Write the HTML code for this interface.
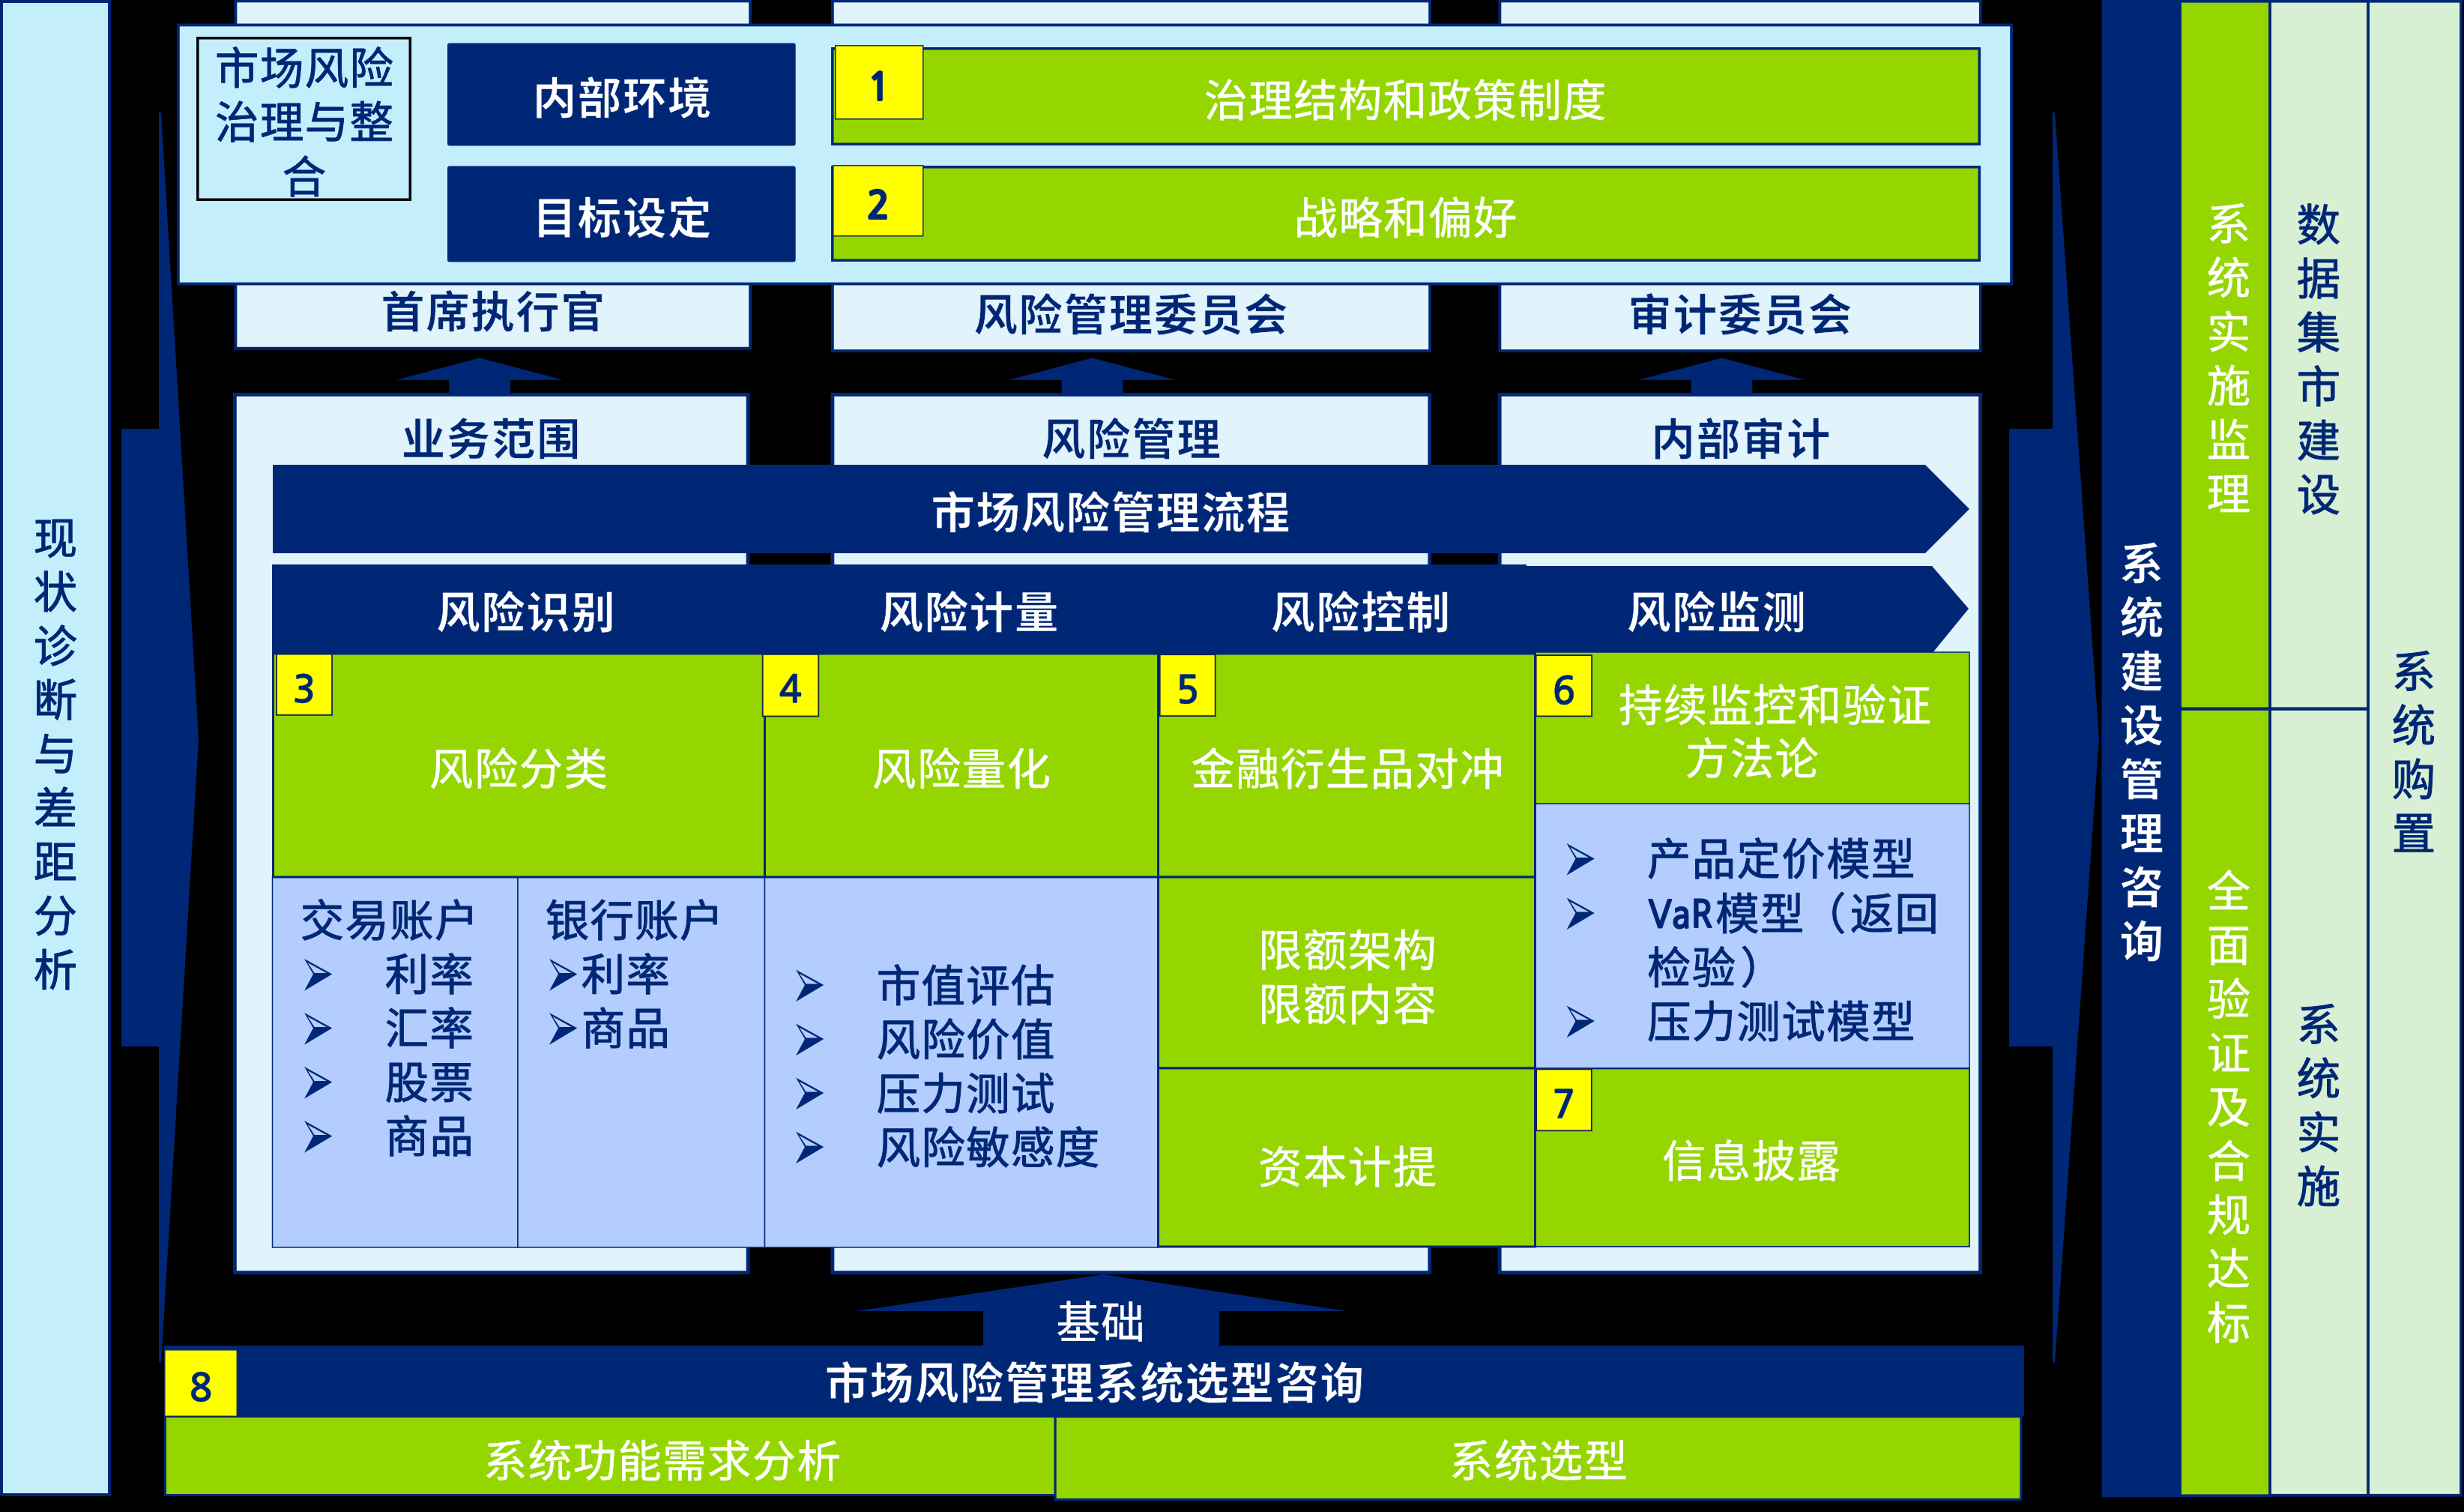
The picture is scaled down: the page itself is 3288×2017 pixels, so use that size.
<!DOCTYPE html>
<html><head><meta charset="utf-8"><title>市场风险管理</title>
<style>
html,body{margin:0;padding:0;background:#000;}
body{width:3288px;height:2017px;overflow:hidden;}
svg{display:block;}
text{font-family:"Liberation Sans","Noto Sans CJK SC",sans-serif;stroke-linejoin:round;}
text{font-size:58.4px;letter-spacing:1.40px;}
text.b{font-weight:700;stroke-width:0.7px;letter-spacing:1.70px;}
text.wr{font-weight:400;stroke-width:0.45px;}
text.nr{font-weight:400;stroke-width:1.0px;}
text.n{font-family:"NanumGothic","Liberation Sans",sans-serif;stroke:#002776;stroke-linejoin:miter;letter-spacing:0;font-size:51px;font-weight:700;}
tspan.lat{font-family:"NanumGothic","Liberation Sans",sans-serif;font-weight:700;stroke-width:0.9px;font-size:50px;letter-spacing:0;}
</style></head><body>
<svg width="3288" height="2017" viewBox="0 0 3288 2017">
<rect width="3288" height="2017" fill="#000"/>
<rect x="2.0" y="2.0" width="144.0" height="1992.0" fill="#c5eefd" stroke="#002776" stroke-width="4" />
<polygon points="163.5,573.5 213.5,573.5 213.5,150 263.5,985 213.5,1818 213.5,1394.5 163.5,1394.5" fill="#002776" stroke="#002776" stroke-width="3" stroke-linejoin="bevel"/>
<polygon points="2682.5,573.5 2740.5,573.5 2740.5,150 2799.5,985 2740.5,1818 2740.5,1394.5 2682.5,1394.5" fill="#002776" stroke="#002776" stroke-width="3" stroke-linejoin="bevel"/>
<rect x="314.4" y="1.4" width="686.7" height="463.3" fill="#e1f3fb" stroke="#002776" stroke-width="3.8" />
<rect x="1110.9" y="1.4" width="797.2" height="466.7" fill="#e1f3fb" stroke="#002776" stroke-width="3.8" />
<rect x="2001.4" y="1.4" width="641.4" height="466.7" fill="#e1f3fb" stroke="#002776" stroke-width="3.8" />
<polygon points="640,477.5 751,506.7 680.8,506.7 680.8,527 599.2,527 599.2,506.7 529,506.7" fill="#002776"/>
<polygon points="1457.5,477.5 1568.5,506.7 1498.3,506.7 1498.3,527 1416.7,527 1416.7,506.7 1346.5,506.7" fill="#002776"/>
<polygon points="2297.5,477.5 2408.5,506.7 2338.3,506.7 2338.3,527 2256.7,527 2256.7,506.7 2186.5,506.7" fill="#002776"/>
<rect x="313.4" y="526.4" width="684.7" height="1171.2" fill="#e1f3fb" stroke="#002776" stroke-width="4.8" />
<rect x="1110.9" y="526.4" width="796.9" height="1171.2" fill="#e1f3fb" stroke="#002776" stroke-width="4.8" />
<rect x="2001.2" y="526.4" width="641.4" height="1171.2" fill="#e1f3fb" stroke="#002776" stroke-width="4.8" />
<rect x="237.9" y="33.4" width="2446.2" height="345.2" fill="#c5eefd" stroke="#002776" stroke-width="3.8" />
<rect x="263.8" y="50.8" width="283.5" height="215.5" fill="#c5eefd" stroke="#000" stroke-width="3.5" />
<text class="nr" x="406.7" y="111.9" fill="#002776" stroke="#002776" text-anchor="middle">市场风险</text>
<text class="nr" x="406.7" y="184.4" fill="#002776" stroke="#002776" text-anchor="middle">治理与整</text>
<text class="nr" x="406.7" y="256.9" fill="#002776" stroke="#002776" text-anchor="middle">合</text>
<rect x="597" y="57.5" width="464.70000000000005" height="137.1" fill="#002776" rx="3"/>
<rect x="597" y="221.4" width="464.70000000000005" height="128.1" fill="#002776" rx="3"/>
<text class="b" x="830.9" y="151.9" fill="#fff" stroke="#002776" text-anchor="middle">内部环境</text>
<text class="b" x="830.9" y="311.9" fill="#fff" stroke="#002776" text-anchor="middle">目标设定</text>
<rect x="1110.8" y="64.8" width="1530.5" height="127.5" fill="#95d600" stroke="#002776" stroke-width="3.5" />
<rect x="1110.8" y="222.8" width="1530.5" height="124.5" fill="#95d600" stroke="#002776" stroke-width="3.5" />
<text class="wr" x="1875.7" y="155.4" fill="#fff" stroke="#fff" text-anchor="middle">治理结构和政策制度</text>
<text class="wr" x="1876.2" y="311.9" fill="#fff" stroke="#fff" text-anchor="middle">战略和偏好</text>
<rect x="1114.8" y="60.8" width="117.0" height="98.0" fill="#ffff00" stroke="#1a2a55" stroke-width="1.5" />
<rect x="1111.8" y="220.8" width="120.0" height="94.0" fill="#ffff00" stroke="#1a2a55" stroke-width="1.5" />
<text x="1173.0" y="133.8" fill="#002776" text-anchor="middle" class="n" stroke-width="2.0">1</text>
<text x="1172.0" y="291.6" fill="#002776" text-anchor="middle" class="n" stroke-width="2.0">2</text>
<text class="b" x="658.4" y="436.9" fill="#002776" stroke="#e1f3fb" text-anchor="middle">首席执行官</text>
<text class="b" x="1509.8" y="440.9" fill="#002776" stroke="#e1f3fb" text-anchor="middle">风险管理委员会</text>
<text class="b" x="2322.8" y="440.9" fill="#002776" stroke="#e1f3fb" text-anchor="middle">审计委员会</text>
<text class="b" x="655.9" y="606.9" fill="#002776" stroke="#e1f3fb" text-anchor="middle">业务范围</text>
<text class="b" x="1510.3" y="606.9" fill="#002776" stroke="#e1f3fb" text-anchor="middle">风险管理</text>
<text class="b" x="2323.8" y="606.9" fill="#002776" stroke="#e1f3fb" text-anchor="middle">内部审计</text>
<polygon points="364,620 2569,620 2628,679 2569,738 364,738" fill="#002776"/>
<polygon points="363,753 2037,753 2037,755 2578,755 2627,812 2578,872 363,872" fill="#002776"/>
<text class="b" x="1482.8" y="704.9" fill="#fff" stroke="#002776" text-anchor="middle">市场风险管理流程</text>
<text class="b" x="702.4" y="838.4" fill="#fff" stroke="#002776" text-anchor="middle">风险识别</text>
<text class="b" x="1293.8" y="838.4" fill="#fff" stroke="#002776" text-anchor="middle">风险计量</text>
<text class="b" x="1816.3" y="838.4" fill="#fff" stroke="#002776" text-anchor="middle">风险控制</text>
<text class="b" x="2291.3" y="838.4" fill="#fff" stroke="#002776" text-anchor="middle">风险监测</text>
<rect x="363.5" y="1170.0" width="327.5" height="494.0" fill="#b3cdff" stroke="#002776" stroke-width="1.5" />
<rect x="691.0" y="1170.0" width="329.5" height="494.0" fill="#b3cdff" stroke="#002776" stroke-width="1.5" />
<rect x="1020.5" y="1170.0" width="525.0" height="494.0" fill="#b3cdff" stroke="#002776" stroke-width="1.5" />
<rect x="2048.5" y="1072.0" width="579.5" height="353.0" fill="#b3cdff" stroke="#002776" stroke-width="1.5" />
<rect x="364.5" y="872.0" width="656.0" height="298.0" fill="#95d600" stroke="#002776" stroke-width="3" />
<rect x="1020.5" y="872.0" width="525.0" height="298.0" fill="#95d600" stroke="#002776" stroke-width="3" />
<rect x="1545.5" y="872.0" width="503.0" height="298.0" fill="#95d600" stroke="#002776" stroke-width="3" />
<rect x="1545.5" y="1170.0" width="503.0" height="255.0" fill="#95d600" stroke="#002776" stroke-width="3" />
<rect x="1545.5" y="1425.0" width="503.0" height="238.0" fill="#95d600" stroke="#002776" stroke-width="3" />
<rect x="2048.5" y="870.0" width="579.5" height="202.0" fill="#95d600" stroke="#002776" stroke-width="1.5" />
<rect x="2048.5" y="1425.5" width="579.5" height="237.5" fill="#95d600" stroke="#002776" stroke-width="1.8" />
<rect x="2047.6" y="870" width="2.400000000000091" height="793" fill="#002776" />
<text class="wr" x="692.7" y="1046.9" fill="#fff" stroke="#fff" text-anchor="middle">风险分类</text>
<text class="wr" x="1283.7" y="1046.9" fill="#fff" stroke="#fff" text-anchor="middle">风险量化</text>
<text class="wr" x="1798.7" y="1046.9" fill="#fff" stroke="#fff" text-anchor="middle">金融衍生品对冲</text>
<text class="wr" x="2369.2" y="962.4" fill="#fff" stroke="#fff" text-anchor="middle">持续监控和验证</text>
<text class="wr" x="2338.7" y="1033.4" fill="#fff" stroke="#fff" text-anchor="middle">方法论</text>
<text class="wr" x="1798.7" y="1288.9" fill="#fff" stroke="#fff" text-anchor="middle">限额架构</text>
<text class="wr" x="1798.7" y="1360.9" fill="#fff" stroke="#fff" text-anchor="middle">限额内容</text>
<text class="wr" x="1798.7" y="1577.9" fill="#fff" stroke="#fff" text-anchor="middle">资本计提</text>
<text class="wr" x="2337.7" y="1569.9" fill="#fff" stroke="#fff" text-anchor="middle">信息披露</text>
<rect x="368.9" y="872.6" width="74.2" height="81.3" fill="#ffff00" stroke="#14224a" stroke-width="1.8" />
<text x="406.0" y="937.4" fill="#002776" text-anchor="middle" class="n" stroke-width="0.4">3</text>
<rect x="1017.7" y="872.9" width="74.6" height="82.6" fill="#ffff00" stroke="#14224a" stroke-width="1.8" />
<text x="1055.0" y="938.3" fill="#002776" text-anchor="middle" class="n" stroke-width="0.4">4</text>
<rect x="1547.7" y="873.2" width="74.0" height="81.9" fill="#ffff00" stroke="#14224a" stroke-width="1.8" />
<text x="1584.7" y="938.2" fill="#002776" text-anchor="middle" class="n" stroke-width="0.4">5</text>
<rect x="2049.7" y="874.1" width="74.4" height="81.3" fill="#ffff00" stroke="#14224a" stroke-width="1.8" />
<text x="2086.9" y="938.9" fill="#002776" text-anchor="middle" class="n" stroke-width="0.4">6</text>
<rect x="2050.2" y="1426.4" width="73.6" height="81.9" fill="#ffff00" stroke="#14224a" stroke-width="1.8" />
<text x="2087.0" y="1491.4" fill="#002776" text-anchor="middle" class="n" stroke-width="0.4">7</text>
<text class="nr" x="400.7" y="1248.9" fill="#002776" stroke="#002776" text-anchor="start">交易账户</text>
<path fill-rule="evenodd" d="M406,1278.9 L443.3,1299.5 L406,1321.8 L417.9,1299.5 Z M410.6,1284.3 L419.6,1298.1 L435.6,1298.1 Z" fill="#002776"/>
<text class="nr" x="513.7" y="1321.4" fill="#002776" stroke="#002776" text-anchor="start">利率</text>
<path fill-rule="evenodd" d="M406,1350.9 L443.3,1371.5 L406,1393.8 L417.9,1371.5 Z M410.6,1356.3 L419.6,1370.1 L435.6,1370.1 Z" fill="#002776"/>
<text class="nr" x="513.7" y="1393.4" fill="#002776" stroke="#002776" text-anchor="start">汇率</text>
<path fill-rule="evenodd" d="M406,1422.9 L443.3,1443.5 L406,1465.8 L417.9,1443.5 Z M410.6,1428.3 L419.6,1442.1 L435.6,1442.1 Z" fill="#002776"/>
<text class="nr" x="513.7" y="1465.4" fill="#002776" stroke="#002776" text-anchor="start">股票</text>
<path fill-rule="evenodd" d="M406,1494.9 L443.3,1515.5 L406,1537.8 L417.9,1515.5 Z M410.6,1500.3 L419.6,1514.1 L435.6,1514.1 Z" fill="#002776"/>
<text class="nr" x="513.7" y="1537.4" fill="#002776" stroke="#002776" text-anchor="start">商品</text>
<text class="nr" x="727.7" y="1248.9" fill="#002776" stroke="#002776" text-anchor="start">银行账户</text>
<path fill-rule="evenodd" d="M733,1278.9 L770.3,1299.5 L733,1321.8 L744.9,1299.5 Z M737.6,1284.3 L746.6,1298.1 L762.6,1298.1 Z" fill="#002776"/>
<text class="nr" x="775.7" y="1321.4" fill="#002776" stroke="#002776" text-anchor="start">利率</text>
<path fill-rule="evenodd" d="M733,1350.9 L770.3,1371.5 L733,1393.8 L744.9,1371.5 Z M737.6,1356.3 L746.6,1370.1 L762.6,1370.1 Z" fill="#002776"/>
<text class="nr" x="775.7" y="1393.4" fill="#002776" stroke="#002776" text-anchor="start">商品</text>
<path fill-rule="evenodd" d="M1062,1293.4 L1099.3,1314 L1062,1336.3 L1073.9,1314 Z M1066.6,1298.8 L1075.6,1312.6 L1091.6,1312.6 Z" fill="#002776"/>
<text class="nr" x="1169.7" y="1335.9" fill="#002776" stroke="#002776" text-anchor="start">市值评估</text>
<path fill-rule="evenodd" d="M1062,1365.4 L1099.3,1386 L1062,1408.3 L1073.9,1386 Z M1066.6,1370.8 L1075.6,1384.6 L1091.6,1384.6 Z" fill="#002776"/>
<text class="nr" x="1169.7" y="1407.9" fill="#002776" stroke="#002776" text-anchor="start">风险价值</text>
<path fill-rule="evenodd" d="M1062,1437.4 L1099.3,1458 L1062,1480.3 L1073.9,1458 Z M1066.6,1442.8 L1075.6,1456.6 L1091.6,1456.6 Z" fill="#002776"/>
<text class="nr" x="1169.7" y="1479.9" fill="#002776" stroke="#002776" text-anchor="start">压力测试</text>
<path fill-rule="evenodd" d="M1062,1509.4 L1099.3,1530 L1062,1552.3 L1073.9,1530 Z M1066.6,1514.8 L1075.6,1528.6 L1091.6,1528.6 Z" fill="#002776"/>
<text class="nr" x="1169.7" y="1551.9" fill="#002776" stroke="#002776" text-anchor="start">风险敏感度</text>
<path fill-rule="evenodd" d="M2090.5,1124.9 L2127.8,1145.5 L2090.5,1167.8 L2102.4,1145.5 Z M2095.1,1130.3 L2104.1,1144.1 L2120.1,1144.1 Z" fill="#002776"/>
<text class="nr" x="2198.0" y="1167.4" fill="#002776" stroke="#002776" text-anchor="start">产品定价模型</text>
<path fill-rule="evenodd" d="M2090.5,1197.4 L2127.8,1218 L2090.5,1240.3 L2102.4,1218 Z M2095.1,1202.8 L2104.1,1216.6 L2120.1,1216.6 Z" fill="#002776"/>
<text class="nr" x="2199.5" y="1239.9" fill="#002776" stroke="#002776"><tspan class="lat" dy="-2.2" textLength="86" lengthAdjust="spacingAndGlyphs">VaR</tspan><tspan x="2289.3" dy="2.2">模型</tspan><tspan dx="-4">（</tspan><tspan dx="4">返回</tspan></text>
<text class="nr" x="2198.0" y="1311.9" fill="#002776" stroke="#002776" text-anchor="start">检验<tspan dx="5">）</tspan></text>
<path fill-rule="evenodd" d="M2090.5,1341.4 L2127.8,1362 L2090.5,1384.3 L2102.4,1362 Z M2095.1,1346.8 L2104.1,1360.6 L2120.1,1360.6 Z" fill="#002776"/>
<text class="nr" x="2198.0" y="1383.9" fill="#002776" stroke="#002776" text-anchor="start">压力测试模型</text>
<polygon points="1472,1700 1797,1749 1627,1749 1627,1796 1312,1796 1312,1749 1142,1749" fill="#002776"/>
<text class="wr" x="1469.2" y="1785.4" fill="#fff" stroke="#fff" text-anchor="middle">基础</text>
<rect x="219" y="1795" width="2482" height="94" fill="#002776" />
<rect x="220.5" y="1889.5" width="1188.0" height="105.0" fill="#95d600" stroke="#002776" stroke-width="3" />
<rect x="1408.1" y="1889.6" width="1288.8" height="110.8" fill="#95d600" stroke="#002776" stroke-width="3.2" />
<rect x="219.8" y="1800.8" width="96.5" height="88.5" fill="#ffff00" stroke="#1a2a55" stroke-width="1.5" />
<text x="268.0" y="1869.1" fill="#002776" text-anchor="middle" class="n" stroke-width="0.4">8</text>
<text class="b" x="1461.3" y="1866.4" fill="#fff" stroke="#002776" text-anchor="middle">市场风险管理系统选型咨询</text>
<text class="wr" x="884.2" y="1969.9" fill="#fff" stroke="#fff" text-anchor="middle">系统功能需求分析</text>
<text class="wr" x="2053.7" y="1969.9" fill="#fff" stroke="#fff" text-anchor="middle">系统选型</text>
<rect x="2804.5" y="-4" width="107.5" height="2001.2" fill="#002776" />
<rect x="2909.2" y="1.8" width="120.0" height="1993.4" fill="#95d600" stroke="#002776" stroke-width="3.6" />
<rect x="3029.2" y="1.8" width="131.0" height="1992.9" fill="#d7efd3" stroke="#002776" stroke-width="3.6" />
<rect x="3160.2" y="1.8" width="123.8" height="1992.9" fill="#d7efd3" stroke="#002776" stroke-width="3.6" />
<rect x="2909" y="943.4" width="252" height="4.399999999999977" fill="#002776" />
<text class="nr" x="74.7" y="738.9" fill="#002776" stroke="#002776" text-anchor="middle">现</text>
<text class="nr" x="74.7" y="810.9" fill="#002776" stroke="#002776" text-anchor="middle">状</text>
<text class="nr" x="74.7" y="882.9" fill="#002776" stroke="#002776" text-anchor="middle">诊</text>
<text class="nr" x="74.7" y="954.9" fill="#002776" stroke="#002776" text-anchor="middle">断</text>
<text class="nr" x="74.7" y="1026.9" fill="#002776" stroke="#002776" text-anchor="middle">与</text>
<text class="nr" x="74.7" y="1098.9" fill="#002776" stroke="#002776" text-anchor="middle">差</text>
<text class="nr" x="74.7" y="1170.9" fill="#002776" stroke="#002776" text-anchor="middle">距</text>
<text class="nr" x="74.7" y="1242.9" fill="#002776" stroke="#002776" text-anchor="middle">分</text>
<text class="nr" x="74.7" y="1314.9" fill="#002776" stroke="#002776" text-anchor="middle">析</text>
<text class="b" x="2858.8" y="773.4" fill="#fff" stroke="#002776" text-anchor="middle">系</text>
<text class="b" x="2858.8" y="845.4" fill="#fff" stroke="#002776" text-anchor="middle">统</text>
<text class="b" x="2858.8" y="917.4" fill="#fff" stroke="#002776" text-anchor="middle">建</text>
<text class="b" x="2858.8" y="989.4" fill="#fff" stroke="#002776" text-anchor="middle">设</text>
<text class="b" x="2858.8" y="1061.4" fill="#fff" stroke="#002776" text-anchor="middle">管</text>
<text class="b" x="2858.8" y="1133.4" fill="#fff" stroke="#002776" text-anchor="middle">理</text>
<text class="b" x="2858.8" y="1205.4" fill="#fff" stroke="#002776" text-anchor="middle">咨</text>
<text class="b" x="2858.8" y="1277.4" fill="#fff" stroke="#002776" text-anchor="middle">询</text>
<text class="wr" x="2974.7" y="320.4" fill="#fff" stroke="#fff" text-anchor="middle">系</text>
<text class="wr" x="2974.7" y="392.4" fill="#fff" stroke="#fff" text-anchor="middle">统</text>
<text class="wr" x="2974.7" y="464.4" fill="#fff" stroke="#fff" text-anchor="middle">实</text>
<text class="wr" x="2974.7" y="536.4" fill="#fff" stroke="#fff" text-anchor="middle">施</text>
<text class="wr" x="2974.7" y="608.4" fill="#fff" stroke="#fff" text-anchor="middle">监</text>
<text class="wr" x="2974.7" y="680.4" fill="#fff" stroke="#fff" text-anchor="middle">理</text>
<text class="wr" x="2974.7" y="1209.9" fill="#fff" stroke="#fff" text-anchor="middle">全</text>
<text class="wr" x="2974.7" y="1281.9" fill="#fff" stroke="#fff" text-anchor="middle">面</text>
<text class="wr" x="2974.7" y="1353.9" fill="#fff" stroke="#fff" text-anchor="middle">验</text>
<text class="wr" x="2974.7" y="1425.9" fill="#fff" stroke="#fff" text-anchor="middle">证</text>
<text class="wr" x="2974.7" y="1497.9" fill="#fff" stroke="#fff" text-anchor="middle">及</text>
<text class="wr" x="2974.7" y="1569.9" fill="#fff" stroke="#fff" text-anchor="middle">合</text>
<text class="wr" x="2974.7" y="1641.9" fill="#fff" stroke="#fff" text-anchor="middle">规</text>
<text class="wr" x="2974.7" y="1713.9" fill="#fff" stroke="#fff" text-anchor="middle">达</text>
<text class="wr" x="2974.7" y="1785.9" fill="#fff" stroke="#fff" text-anchor="middle">标</text>
<text class="nr" x="3094.7" y="320.9" fill="#002776" stroke="#002776" text-anchor="middle">数</text>
<text class="nr" x="3094.7" y="392.9" fill="#002776" stroke="#002776" text-anchor="middle">据</text>
<text class="nr" x="3094.7" y="464.9" fill="#002776" stroke="#002776" text-anchor="middle">集</text>
<text class="nr" x="3094.7" y="536.9" fill="#002776" stroke="#002776" text-anchor="middle">市</text>
<text class="nr" x="3094.7" y="608.9" fill="#002776" stroke="#002776" text-anchor="middle">建</text>
<text class="nr" x="3094.7" y="680.9" fill="#002776" stroke="#002776" text-anchor="middle">设</text>
<text class="nr" x="3094.7" y="1388.4" fill="#002776" stroke="#002776" text-anchor="middle">系</text>
<text class="nr" x="3094.7" y="1460.4" fill="#002776" stroke="#002776" text-anchor="middle">统</text>
<text class="nr" x="3094.7" y="1532.4" fill="#002776" stroke="#002776" text-anchor="middle">实</text>
<text class="nr" x="3094.7" y="1604.4" fill="#002776" stroke="#002776" text-anchor="middle">施</text>
<text class="nr" x="3221.7" y="917.4" fill="#002776" stroke="#002776" text-anchor="middle">系</text>
<text class="nr" x="3221.7" y="989.4" fill="#002776" stroke="#002776" text-anchor="middle">统</text>
<text class="nr" x="3221.7" y="1061.4" fill="#002776" stroke="#002776" text-anchor="middle">购</text>
<text class="nr" x="3221.7" y="1133.4" fill="#002776" stroke="#002776" text-anchor="middle">置</text>
</svg>
</body></html>
